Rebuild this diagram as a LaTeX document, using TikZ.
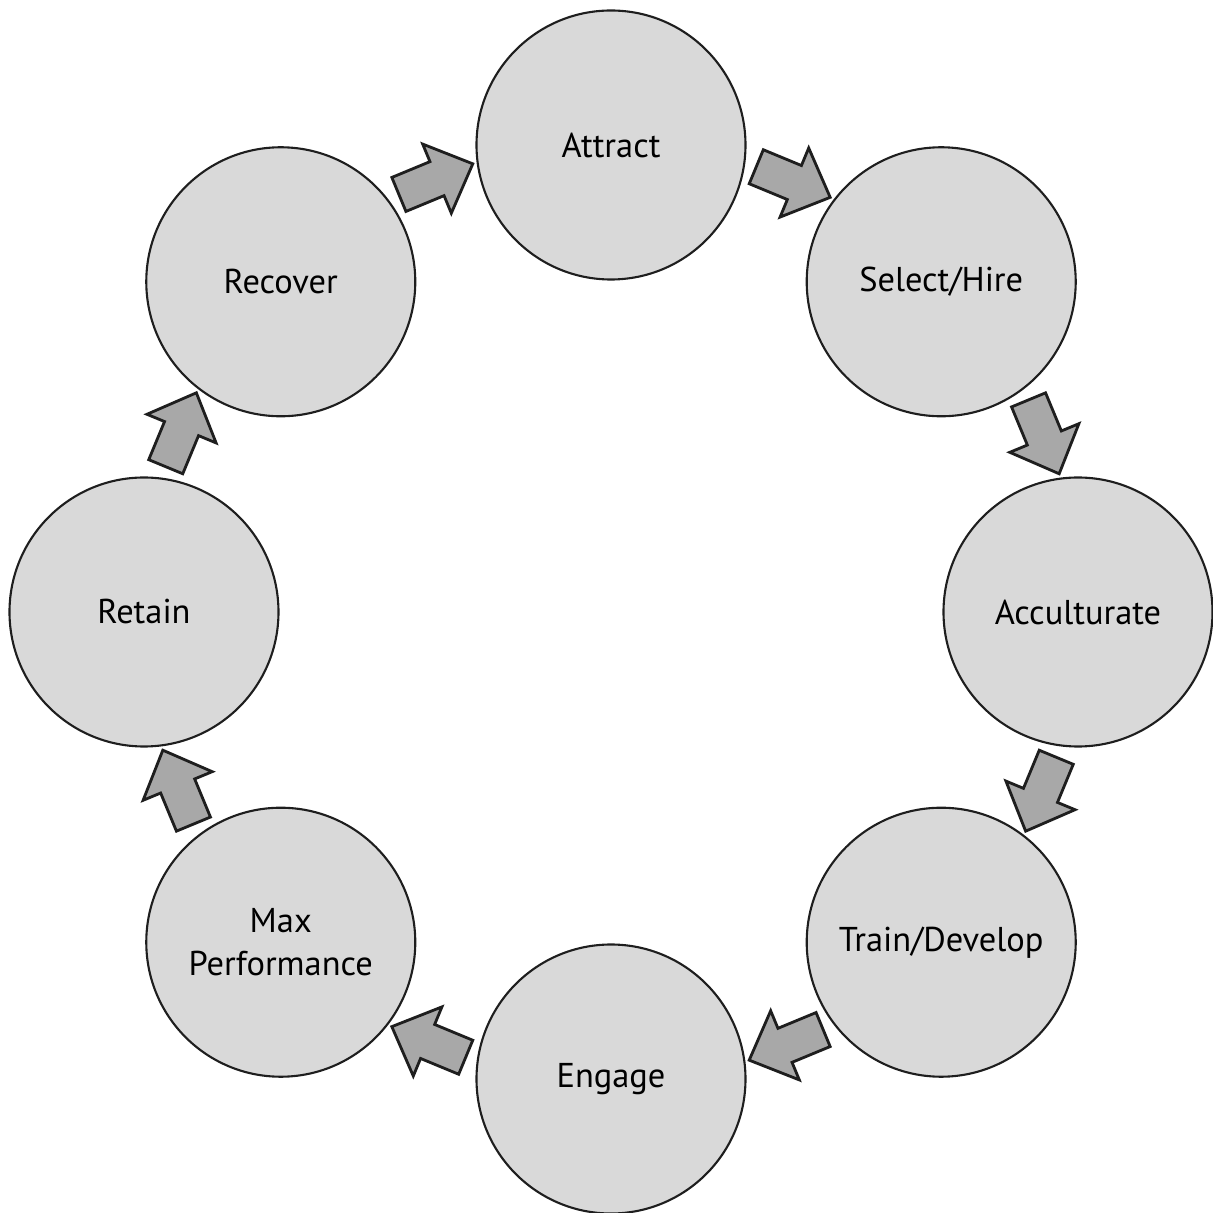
\documentclass[tikz,border=0pt]{standalone}
\usepackage{fontspec}
\setmainfont{PT Sans}
\usepackage{tikz}
\usetikzlibrary{shapes.arrows}
\definecolor{stagegray}{RGB}{217,217,217}
\definecolor{arrowgray}{RGB}{168,168,168}
\definecolor{lineblack}{RGB}{30,30,30}

\begin{document}
\begin{tikzpicture}[
  stage/.style={circle, draw=lineblack, line width=0.6pt, fill=stagegray, minimum size=2.69cm, inner sep=0pt, font=\fontsize{9.8}{12}\selectfont, align=center},
  flow/.style={single arrow, draw=lineblack, line width=0.8pt, fill=arrowgray, inner xsep=0pt, inner ysep=0.17cm, minimum height=0.8cm, single arrow head extend=0.19cm, single arrow tip angle=88}
]
  \useasboundingbox (-6.11,-6.01) rectangle (6.02,6.12);

  % Stages of the cycle
  \node[stage] (attract) at (90:4.67) {Attract};
  \node[stage] (select) at (45:4.67) {Select/Hire};
  \node[stage] (accult) at (0:4.67) {Acculturate};
  \node[stage] (train) at (-45:4.67) {Train/Develop};
  \node[stage] (engage) at (-90:4.67) {Engage};
  \node[stage] (maxperf) at (-135:4.67) {Max\\Performance};
  \node[stage] (retain) at (180:4.67) {Retain};
  \node[stage] (recover) at (135:4.67) {Recover};

  % Block arrows between stages
  \node[flow, rotate=-22.5] (a1) at (68.2:4.67) {};
  \node[flow, rotate=-67.5] (a2) at (23.2:4.67) {};
  \node[flow, rotate=-112.5] (a3) at (-21.8:4.67) {};
  \node[flow, rotate=-157.5] (a4) at (-66.8:4.67) {};
  \node[flow, rotate=157.5] (a5) at (-111.8:4.67) {};
  \node[flow, rotate=112.5] (a6) at (-156.8:4.67) {};
  \node[flow, rotate=67.5] (a7) at (158.2:4.67) {};
  \node[flow, rotate=22.5] (a8) at (113.2:4.67) {};
\end{tikzpicture}
\end{document}
